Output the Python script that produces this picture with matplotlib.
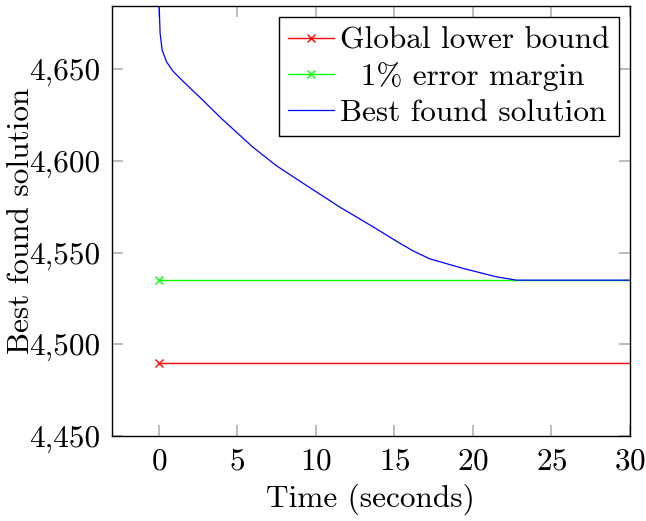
import numpy as np
import matplotlib.pyplot as plt
from matplotlib.ticker import FuncFormatter

plt.rcParams["font.family"] = "serif"
plt.rcParams["font.serif"] = ["cmr10"]
plt.rcParams["mathtext.fontset"] = "cm"
plt.rcParams["axes.formatter.use_mathtext"] = True

# data
lower_bound = 4490
margin = 4535
time_best = [0.0, 0.02, 0.08, 0.21, 0.49, 0.91, 1.53, 2.80, 4.0, 5.99, 7.5, 9.17,
             11.53, 12.99, 14.08, 15.14, 16.20, 17.26, 19.38, 21.51, 22.78, 30.0]
best_sol = [4700, 4684.3, 4669.6, 4660.4, 4654.0, 4648.8, 4643.5, 4633.1, 4623.0,
            4607.5, 4597.3, 4587.9, 4574.8, 4567.4, 4561.8, 4556.2, 4550.9,
            4546.6, 4541.4, 4536.8, 4535.0, 4535.0]

fig, ax = plt.subplots(figsize=(6.46, 5.21), dpi=100)

ax.plot([0, 30], [lower_bound, lower_bound], color="red", lw=1.0,
        marker="x", markevery=[0], ms=6, label="Global lower bound")
ax.plot([0, 30], [margin, margin], color="#00ff00", lw=1.0,
        marker="x", markevery=[0], ms=6, label="  1% error margin")
ax.plot(time_best, best_sol, color="blue", lw=0.9, label="Best found solution")

ax.set_xlim(-3, 30)
ax.set_ylim(4450, 4684.3)
ax.set_xticks([0, 5, 10, 15, 20, 25, 30])
ax.set_yticks([4450, 4500, 4550, 4600, 4650])
ax.yaxis.set_major_formatter(FuncFormatter(lambda v, p: f"{int(v):,}"))

ax.tick_params(direction="in", length=8, width=1.2, color="#b0b0b0",
               top=True, right=True, labelsize=22.5, pad=8)
for s in ax.spines.values():
    s.set_linewidth(1.0)
    s.set_color("black")

ax.set_xlabel("Time (seconds)", fontsize=22.5)
ax.xaxis.set_label_coords(0.5, -0.11)
ax.set_ylabel("Best found solution", fontsize=22.5)
ax.yaxis.set_label_coords(-0.148, 0.5)

leg = ax.legend(loc="upper right", fontsize=22.5, fancybox=False, framealpha=1,
                edgecolor="black", handlelength=1.45, handletextpad=0.2,
                borderpad=0.3, labelspacing=0.25, borderaxespad=0.35)
leg.get_frame().set_linewidth(1.0)

fig.subplots_adjust(left=0.173, right=0.975, top=0.988, bottom=0.163)
fig.savefig("out.png", dpi=100)
